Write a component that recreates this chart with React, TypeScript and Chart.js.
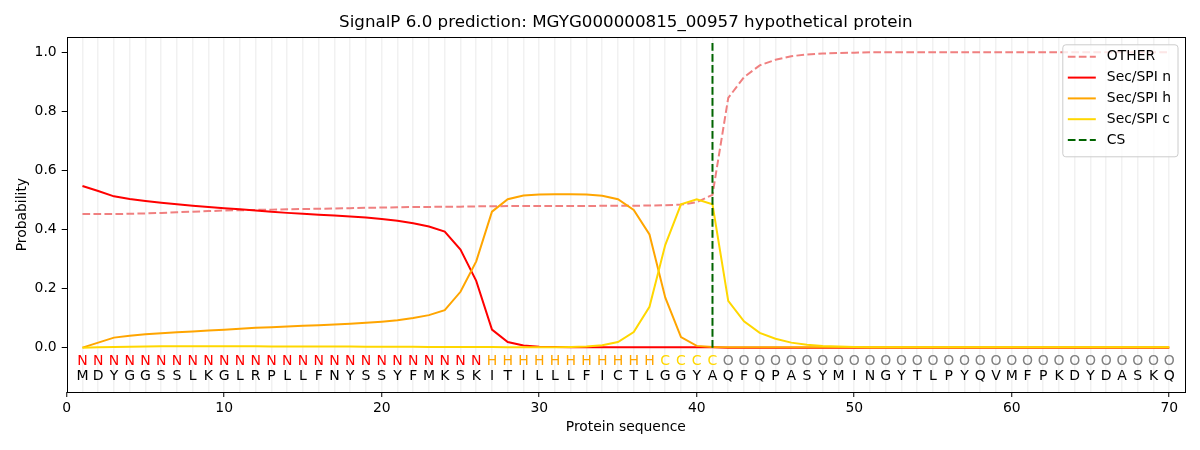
import React, { useEffect, useRef } from "react";
import { Chart, registerables } from "chart.js";

Chart.register(...registerables);

const TITLE = "SignalP 6.0 prediction: MGYG000000815_00957 hypothetical protein";
const X_TITLE = "Protein sequence";
const Y_TITLE = "Probability";

const residues = "MDYGGSSLKGLRPLLFNYSSYFMKSKITILLLFICTLGGYAQFQPASYMINGYTLPYQVMFPKDYDASKQ".split("");
const regions = "NNNNNNNNNNNNNNNNNNNNNNNNNNHHHHHHHHHHHCCCCOOOOOOOOOOOOOOOOOOOOOOOOOOOOO".split("");

const other = [
  0.452, 0.452, 0.452, 0.453, 0.454, 0.456, 0.458, 0.460, 0.462, 0.464,
  0.465, 0.466, 0.467, 0.468, 0.469, 0.470, 0.471, 0.472, 0.473, 0.474,
  0.475, 0.476, 0.476, 0.477, 0.477, 0.478, 0.478, 0.479, 0.479, 0.479,
  0.479, 0.479, 0.479, 0.480, 0.480, 0.480, 0.481, 0.482, 0.484, 0.492,
  0.517, 0.845, 0.915, 0.955, 0.974, 0.986, 0.992, 0.995, 0.997, 0.998,
  0.999, 0.999, 0.999, 0.999, 0.999, 0.999, 0.999, 0.999, 0.999, 0.999,
  0.999, 0.999, 0.999, 0.999, 0.999, 0.999, 0.999, 0.999, 0.999, 0.999,
];

const secN = [
  0.547, 0.530, 0.512, 0.503, 0.496, 0.490, 0.485, 0.480, 0.476, 0.472,
  0.468, 0.464, 0.460, 0.456, 0.453, 0.450, 0.447, 0.444, 0.440, 0.435,
  0.429, 0.421, 0.410, 0.393, 0.332, 0.226, 0.061, 0.019, 0.007, 0.003,
  0.002, 0.001, 0.001, 0.001, 0.001, 0.001, 0.001, 0.001, 0.001, 0.001,
  0.001, 0.000, 0.000, 0.000, 0.000, 0.000, 0.000, 0.000, 0.000, 0.000,
  0.000, 0.000, 0.000, 0.000, 0.000, 0.000, 0.000, 0.000, 0.000, 0.000,
  0.000, 0.000, 0.000, 0.000, 0.000, 0.000, 0.000, 0.000, 0.000, 0.000,
];

const secH = [
  0.000, 0.017, 0.034, 0.040, 0.045, 0.049, 0.052, 0.055, 0.058, 0.061,
  0.064, 0.067, 0.069, 0.072, 0.074, 0.076, 0.078, 0.081, 0.084, 0.088,
  0.093, 0.100, 0.110, 0.127, 0.189, 0.292, 0.460, 0.502, 0.515, 0.518,
  0.519, 0.519, 0.518, 0.514, 0.502, 0.466, 0.383, 0.170, 0.036, 0.006,
  0.002, 0.001, 0.001, 0.001, 0.001, 0.001, 0.001, 0.001, 0.001, 0.001,
  0.001, 0.001, 0.001, 0.001, 0.001, 0.001, 0.001, 0.001, 0.001, 0.001,
  0.001, 0.001, 0.001, 0.001, 0.001, 0.001, 0.001, 0.001, 0.001, 0.001,
];

const secC = [
  0.000, 0.001, 0.002, 0.003, 0.004, 0.005, 0.005, 0.005, 0.005, 0.005,
  0.005, 0.005, 0.004, 0.004, 0.004, 0.004, 0.004, 0.004, 0.003, 0.003,
  0.003, 0.003, 0.002, 0.002, 0.002, 0.002, 0.002, 0.001, 0.001, 0.001,
  0.001, 0.002, 0.004, 0.008, 0.019, 0.053, 0.138, 0.347, 0.485, 0.502,
  0.485, 0.158, 0.089, 0.050, 0.030, 0.017, 0.010, 0.006, 0.004, 0.002,
  0.001, 0.001, 0.001, 0.001, 0.001, 0.001, 0.001, 0.001, 0.001, 0.001,
  0.001, 0.001, 0.001, 0.001, 0.001, 0.001, 0.001, 0.001, 0.001, 0.001,
];

const csPosition = 41;
const csRange = [0, 1.04];

const xLimits = [0, 71];
const yLimits = [-0.15, 1.05];
const yTickValues = [0, 0.2, 0.4, 0.6, 0.8, 1.0];
const xTickStep = 10;

const FONT = '"DejaVu Sans", "Liberation Sans", sans-serif';

const regionColors: Record<string, string> = {
  N: "#ff0000",
  H: "#ffa500",
  C: "#ffd700",
  O: "#808080",
};

const toPoints = (vals: number[]) => vals.map((v, i) => ({ x: i + 1, y: v }));

const decorPlugin = {
  id: "decor",
  afterDraw(chart: any) {
    const { ctx, chartArea: a, scales } = chart;
    const xs = scales.x;
    const ys = scales.y;
    ctx.save();

    // sequence annotation
    const y0 = ys.getPixelForValue(0);
    ctx.font = `14px ${FONT}`;
    ctx.textAlign = "center";
    ctx.textBaseline = "middle";
    residues.forEach((r, i) => {
      const x = xs.getPixelForValue(i + 1);
      ctx.fillStyle = regionColors[regions[i]];
      ctx.fillText(regions[i], x, y0 + 14);
      ctx.fillStyle = "#000000";
      ctx.fillText(r, x, y0 + 29);
    });

    // frame
    ctx.strokeStyle = "#000000";
    ctx.lineWidth = 1;
    ctx.setLineDash([]);
    ctx.strokeRect(Math.round(a.left) + 0.5, Math.round(a.top) + 0.5, Math.round(a.right - a.left), Math.round(a.bottom - a.top));

    // title
    const cx = (a.left + a.right) / 2;
    ctx.fillStyle = "#000000";
    ctx.font = `16.7px ${FONT}`;
    ctx.textAlign = "center";
    ctx.textBaseline = "middle";
    ctx.fillText(TITLE, cx, 23);

    // axis titles
    ctx.font = `13.9px ${FONT}`;
    ctx.fillText(X_TITLE, cx, 427);
    ctx.save();
    ctx.translate(22, (a.top + a.bottom) / 2);
    ctx.rotate(-Math.PI / 2);
    ctx.fillText(Y_TITLE, 0, 0);
    ctx.restore();

    // legend
    const ds = chart.data.datasets;
    ctx.font = `13.9px ${FONT}`;
    let maxW = 0;
    ds.forEach((d: any) => {
      maxW = Math.max(maxW, ctx.measureText(d.label).width);
    });
    const rowH = 20.8;
    const boxW = 44 + maxW + 7;
    const boxH = 10 + rowH * ds.length - 2;
    const bx = a.right - 7 - boxW;
    const by = a.top + 7.5;
    ctx.beginPath();
    ctx.roundRect(bx, by, boxW, boxH, 3);
    ctx.fillStyle = "rgba(255,255,255,0.8)";
    ctx.fill();
    ctx.strokeStyle = "#cccccc";
    ctx.lineWidth = 1;
    ctx.stroke();
    ds.forEach((d: any, i: number) => {
      const yy = by + 12 + i * rowH;
      ctx.beginPath();
      ctx.strokeStyle = d.borderColor;
      ctx.lineWidth = 2;
      ctx.setLineDash(d.borderDash || []);
      ctx.moveTo(bx + 5, yy);
      ctx.lineTo(bx + 33, yy);
      ctx.stroke();
      ctx.setLineDash([]);
      ctx.fillStyle = "#000000";
      ctx.textAlign = "left";
      ctx.fillText(d.label, bx + 44, yy);
    });

    ctx.restore();
  },
};

export default function App() {
  const canvasRef = useRef<HTMLCanvasElement | null>(null);

  useEffect(() => {
    const canvas = canvasRef.current;
    if (!canvas) return;
    const dash = [7.7, 3.3];
    const base = { pointRadius: 0, borderWidth: 2, tension: 0, fill: false };
    const chart = new Chart(canvas, {
      type: "line",
      data: {
        datasets: [
          { ...base, label: "OTHER", data: toPoints(other), borderColor: "#f08080", borderDash: dash, order: 5 },
          { ...base, label: "Sec/SPI n", data: toPoints(secN), borderColor: "#ff0000", order: 4 },
          { ...base, label: "Sec/SPI h", data: toPoints(secH), borderColor: "#ffa500", order: 3 },
          { ...base, label: "Sec/SPI c", data: toPoints(secC), borderColor: "#ffd700", order: 2 },
          {
            ...base,
            label: "CS",
            data: csRange.map((v) => ({ x: csPosition, y: v })),
            borderColor: "#006400",
            borderDash: dash,
            order: 1,
          },
        ] as any,
      },
      options: {
        animation: false,
        responsive: false,
        devicePixelRatio: 1,
        layout: { padding: { left: 0, top: 37.3, right: 15, bottom: 0 } },
        plugins: {
          legend: { display: false },
          title: { display: false },
          tooltip: { enabled: false },
        },
        scales: {
          x: {
            type: "linear",
            min: xLimits[0],
            max: xLimits[1],
            afterFit: (s: any) => {
              s.height = 58;
            },
            ticks: {
              stepSize: 1,
              autoSkip: false,
              maxRotation: 0,
              padding: 3,
              color: "#000000",
              font: { family: FONT, size: 13.9 },
              callback: (v: any) => (Number(v) % xTickStep === 0 && Number(v) <= residues.length ? String(v) : ""),
            },
            grid: {
              drawOnChartArea: true,
              drawTicks: true,
              tickLength: 5,
              lineWidth: 1.5,
              color: (c: any) => {
                const v = c.tick ? c.tick.value : 0;
                return v >= 1 && v <= residues.length ? "#f1f1f1" : "rgba(0,0,0,0)";
              },
              tickColor: (c: any) => {
                const v = c.tick ? c.tick.value : 1;
                return v % xTickStep === 0 && v <= residues.length ? "#000000" : "rgba(0,0,0,0)";
              },
              tickWidth: 1,
            },
            border: { display: false },
          },
          y: {
            type: "linear",
            min: yLimits[0],
            max: yLimits[1],
            afterFit: (s: any) => {
              s.width = 66.7;
            },
            afterBuildTicks: (s: any) => {
              s.ticks = yTickValues.map((value) => ({ value }));
            },
            ticks: {
              padding: 5,
              color: "#000000",
              font: { family: FONT, size: 13.9 },
              callback: (v: any) => Number(v).toFixed(1),
            },
            grid: {
              drawOnChartArea: false,
              drawTicks: true,
              tickLength: 5,
              tickColor: "#000000",
              tickWidth: 1,
            },
            border: { display: false },
          },
        },
      },
      plugins: [decorPlugin],
    });
    return () => chart.destroy();
  }, []);

  return (
    <div style={{ position: "absolute", left: 0, top: 0, width: 1200, height: 450, background: "#ffffff" }}>
      <canvas ref={canvasRef} width={1200} height={450} style={{ display: "block" }} />
    </div>
  );
}
